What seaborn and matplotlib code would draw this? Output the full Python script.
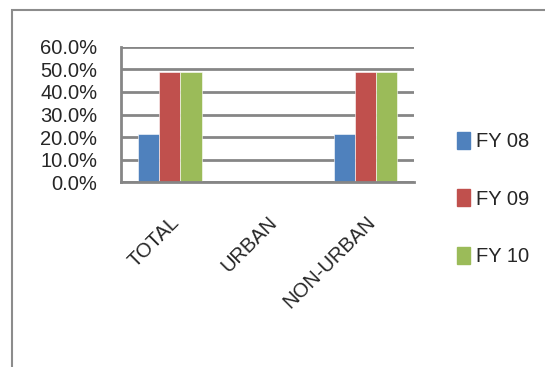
import pandas as pd
import seaborn as sns
import matplotlib.pyplot as plt
from matplotlib.patches import Rectangle
from matplotlib.ticker import PercentFormatter, FixedLocator
from matplotlib import font_manager

# Data (fractions)
categories = ['TOTAL', 'URBAN', 'NON-URBAN']
fy08 = [0.212, 0.0, 0.212]
fy09 = [0.487, 0.0, 0.487]
fy10 = [0.489, 0.0, 0.489]
seriesNames = ['FY 08', 'FY 09', 'FY 10']

df = pd.DataFrame({
    'cat': categories * 3,
    'series': [s for s in seriesNames for _ in categories],
    'val': fy08 + fy09 + fy10,
})

# Styles
pal = {'FY 08': '#4F81BD', 'FY 09': '#C0504D', 'FY 10': '#9BBB59'}
gridCol = '#868686'
sns.set_style('white')
# prefer a narrow face (closer to Calibri) if one is installed
names = {f.name for f in font_manager.fontManager.ttflist}
narrow = [n for n in ['Liberation Sans Narrow', 'DejaVu Sans Condensed'] if n in names]
if narrow:
    plt.rcParams['font.family'] = [narrow[0], 'DejaVu Sans']
    fs = 15.5
else:
    plt.rcParams['font.family'] = ['Liberation Sans', 'DejaVu Sans']
    fs = 14.5

fig = plt.figure(figsize=(5.45, 3.67), dpi=100)
ax = fig.add_axes([0.222, 0.504, 0.538, 0.368])
sns.barplot(data=df, x='cat', y='val', hue='series', order=categories, hue_order=seriesNames,
            palette=pal, width=0.65, saturation=1, edgecolor='white', linewidth=0.4, ax=ax)

ax.set_ylim(0, 0.6)
ax.set_xlim(-0.5, 2.5)
ax.yaxis.set_major_locator(FixedLocator([0, .1, .2, .3, .4, .5, .6]))
ax.yaxis.set_major_formatter(PercentFormatter(1.0, decimals=1))
ax.grid(axis='y', color=gridCol, lw=2)
ax.set_axisbelow(True)
for s in ['top', 'right']:
    ax.spines[s].set_visible(False)
for s in ['left', 'bottom']:
    ax.spines[s].set_color(gridCol)
    ax.spines[s].set_linewidth(2)
ax.tick_params(axis='y', length=5, width=2, color=gridCol, labelsize=fs, pad=12)
ax.tick_params(axis='x', which='major', length=0, labelsize=fs, pad=22)
ax.xaxis.set_minor_locator(FixedLocator([-0.5, 0.5, 1.5, 2.5]))
ax.tick_params(axis='x', which='minor', length=7, width=2, color=gridCol)
plt.setp(ax.get_xticklabels(), rotation=45, ha='right', rotation_mode='anchor')
ax.set_xlabel('')
ax.set_ylabel('')

# legend on the right
ax.get_legend().remove()
handles = [Rectangle((0, 0), 1, 1, color=pal[s]) for s in seriesNames]
fig.legend(handles, seriesNames, loc='upper left', bbox_to_anchor=(0.805, 0.69), frameon=False,
           fontsize=fs, labelspacing=1.9, handlelength=0.65, handleheight=0.9, handletextpad=0.3)

# chart border
fig.patches.append(Rectangle((12 / 545, -0.1), 1.2, 1 - 10 / 367 + 0.1, transform=fig.transFigure,
                             fill=False, edgecolor='#8c8c8c', lw=1.5))

fig.savefig('out.png', dpi=100)
